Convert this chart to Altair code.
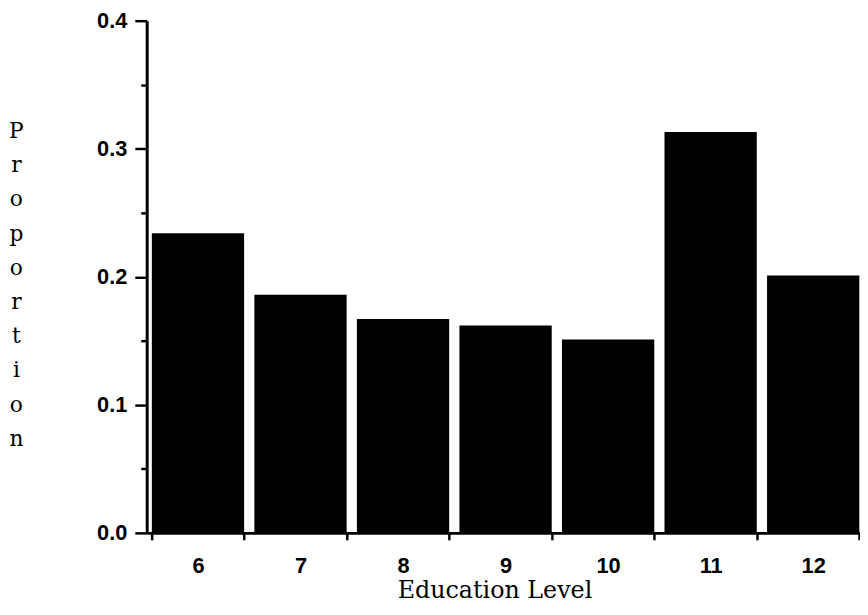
import altair as alt
import pandas as pd

levels = ["6", "7", "8", "9", "10", "11", "12"]
proportions = [0.234, 0.186, 0.167, 0.162, 0.151, 0.313, 0.201]
y_ticks = [0.0, 0.05, 0.1, 0.15, 0.2, 0.25, 0.3, 0.35, 0.4]
y_title_letters = list("Proportion")

df = pd.DataFrame({"level": levels, "proportion": proportions})

major_test = "abs(round(datum.value*10) - datum.value*10) < 0.001"

chart = alt.Chart(df).mark_bar(color="black").encode(
    x=alt.X(
        "level:N",
        sort=levels,
        scale=alt.Scale(range=[0, 724.5], paddingInner=0.1, paddingOuter=0.05),
        axis=alt.Axis(
            title="Education Level",
            titleFont="DejaVu Serif",
            titleFontWeight="normal",
            titleFontSize=24,
            titleColor="black",
            titleX=351,
            titleY=65,
            titleAlign="center",
            titleBaseline="alphabetic",
            labelFont="Liberation Sans",
            labelFontWeight="bold",
            labelFontSize=22,
            labelColor="black",
            labelAngle=0,
            labelPadding=16,
            tickBand="extent",
            tickSize=7,
            tickWidth=2.5,
            tickColor="black",
            domainColor="black",
            domainWidth=3,
        ),
    ),
    y=alt.Y(
        "proportion:Q",
        scale=alt.Scale(domain=[0, 0.4], nice=False, zero=True),
        axis=alt.Axis(
            values=y_ticks,
            labelExpr=f"({major_test}) ? format(datum.value, '.1f') : ''",
            title=y_title_letters,
            titleAngle=0,
            titleFont="DejaVu Serif",
            titleFontWeight="normal",
            titleFontSize=22,
            titleColor="black",
            titleX=-132,
            titleY=118,
            titleAlign="center",
            titleBaseline="alphabetic",
            titleLineHeight=34.5,
            labelFont="Liberation Sans",
            labelFontWeight="bold",
            labelFontSize=22,
            labelColor="black",
            labelPadding=8,
            tickSize={"condition": {"test": major_test, "value": 12}, "value": 6},
            tickWidth=2.5,
            tickColor="black",
            domainColor="black",
            domainWidth=3,
            grid=False,
        ),
    ),
).properties(
    width=720,
    height=517,
    autosize=alt.AutoSizeParams(type="none"),
    padding={"left": 140, "top": 10, "right": 0, "bottom": 72},
).configure_view(stroke=None)

chart.save("out.html", embed_options={"renderer": "svg", "actions": False})
